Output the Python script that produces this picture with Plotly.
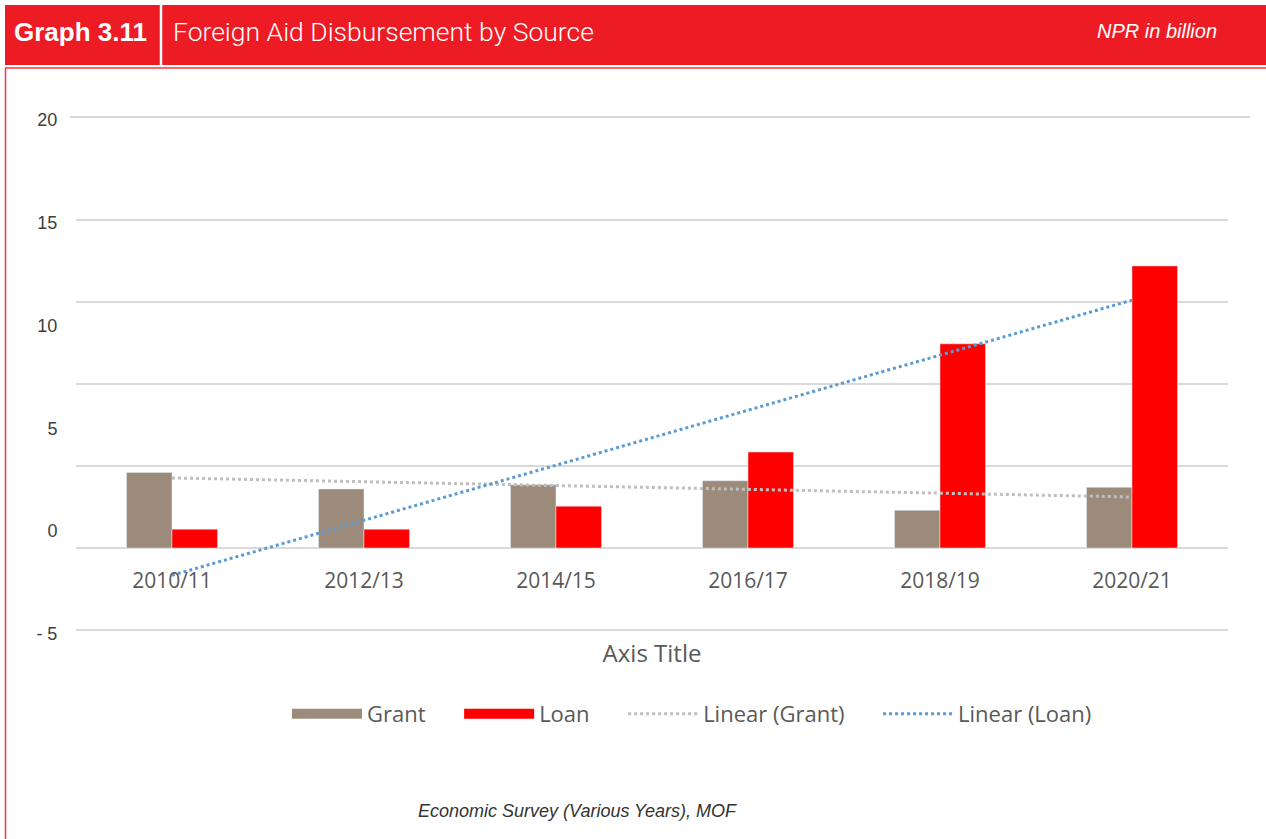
import numpy as np
import plotly.graph_objects as go

# data (NPR in billion)
years = ["2010/11", "2012/13", "2014/15", "2016/17", "2018/19", "2020/21"]
grant = [4.6, 3.6, 3.85, 4.1, 2.3, 3.7]
loan = [1.15, 1.15, 2.55, 5.85, 12.45, 17.2]
grid_vals = [-5, 0, 5, 10, 15, 20]
label_text = ["- 5", "0", "5", "10", "15", "20"]

GRANT_C = "#9C8B7B"
LOAN_C = "#FF0000"
RED = "#ED1C24"
CHART_FONT = "Open Sans"
PAD = "\u00a0" * 5

# page geometry
W, H = 1266, 839
PL, PR, PT, PB = 76, 1228, 100, 640  # plot area in page pixels


def px(x):
    return (x - PL) / (PR - PL)


def py(y):
    return (PB - y) / (PB - PT)


# linear trend lines (Excel style least squares)
xi = np.arange(len(years))
g_fit = np.polyval(np.polyfit(xi, grant, 1), xi)
l_fit = np.polyval(np.polyfit(xi, loan, 1), xi)

fig = go.Figure()

fig.add_trace(go.Bar(x=years, y=grant, name="Grant", marker_color=GRANT_C,
                     showlegend=False))
fig.add_trace(go.Bar(x=years, y=loan, name="Loan", marker_color=LOAN_C,
                     showlegend=False))
fig.add_trace(go.Scatter(x=years, y=g_fit, mode="lines", showlegend=False,
                         line=dict(color="#BFBFBF", width=3, dash="dot")))
fig.add_trace(go.Scatter(x=years, y=l_fit, mode="lines", showlegend=False,
                         line=dict(color="#5B9BD5", width=3, dash="dot")))

# legend entries (wide swatches like the original), kept on the label axis
for name, color, width, dash in [
    ("Grant" + PAD, GRANT_C, 12, "solid"),
    ("Loan" + PAD, LOAN_C, 12, "solid"),
    ("Linear (Grant)" + PAD, "#BFBFBF", 3, "dot"),
    ("Linear (Loan)", "#5B9BD5", 3, "dot"),
]:
    fig.add_trace(go.Scatter(x=[None], y=[None], yaxis="y2", mode="lines",
                             name=name,
                             line=dict(color=color, width=width, dash=dash)))

fig.update_layout(
    width=W,
    height=H,
    paper_bgcolor="white",
    plot_bgcolor="white",
    margin=dict(l=PL, r=W - PR, t=PT, b=H - PB, autoexpand=False),
    barmode="group",
    bargap=0.526,
    bargroupgap=0,
    xaxis=dict(
        anchor="free",
        position=py(566),
        showgrid=False,
        showline=False,
        zeroline=False,
        tickfont=dict(family=CHART_FONT, size=21, color="#595959"),
        title=dict(text="Axis Title", standoff=52,
                   font=dict(family=CHART_FONT, size=24, color="#595959")),
    ),
    yaxis=dict(
        range=[(548 - PB) / 16.4, (548 - PT) / 16.4],
        tickvals=grid_vals,
        showticklabels=False,
        showgrid=True,
        gridcolor="#D9D9D9",
        gridwidth=1.5,
        zeroline=False,
    ),
    yaxis2=dict(
        overlaying="y",
        side="left",
        range=[(531 - PB) / 20.55, (531 - PT) / 20.55],
        tickvals=grid_vals,
        ticktext=label_text,
        showgrid=False,
        zeroline=False,
        ticks="outside",
        ticklen=14,
        tickcolor="rgba(0,0,0,0)",
        tickfont=dict(family="Liberation Sans", size=18, color="#404040"),
    ),
    legend=dict(
        orientation="h",
        x=px(692),
        y=py(714),
        xanchor="center",
        yanchor="middle",
        font=dict(family=CHART_FONT, size=22, color="#595959"),
        itemwidth=70,
    ),
)

shapes = [
    # header band
    dict(type="rect", xref="paper", yref="paper", x0=px(5), x1=px(1266),
         y0=py(65), y1=py(5), fillcolor=RED, line=dict(width=0)),
    dict(type="line", xref="paper", yref="paper", x0=px(161), x1=px(161),
         y0=py(65), y1=py(5), line=dict(color="white", width=2.5)),
    # frame
    dict(type="line", xref="paper", yref="paper", x0=px(5), x1=px(1266),
         y0=py(68), y1=py(68), line=dict(color="#EE3A45", width=1.5)),
    dict(type="line", xref="paper", yref="paper", x0=px(5.5), x1=px(5.5),
         y0=py(68), y1=py(839), line=dict(color="#EE3A45", width=1.5)),
    # top rule
    dict(type="line", xref="paper", yref="paper", x0=px(70), x1=px(1250),
         y0=py(117), y1=py(117), line=dict(color="#D9D9D9", width=2)),
]
fig.update_layout(shapes=shapes)

annotations = [
    dict(xref="paper", yref="paper", x=px(12), y=py(32), xanchor="left",
         yanchor="middle", showarrow=False, text="<b>Graph 3.11</b>",
         font=dict(family="Liberation Sans", size=26, color="white")),
    dict(xref="paper", yref="paper", x=px(171), y=py(32), xanchor="left",
         yanchor="middle", showarrow=False,
         text="Foreign Aid Disbursement by Source",
         font=dict(family="Roboto", size=26.5, color="white", weight=300)),
    dict(xref="paper", yref="paper", x=px(1219), y=py(31), xanchor="right",
         yanchor="middle", showarrow=False, text="<i>NPR in billion</i>",
         font=dict(family="Liberation Sans", size=20, color="white")),
    dict(xref="paper", yref="paper", x=px(577), y=py(811), xanchor="center",
         yanchor="middle", showarrow=False,
         text="<i>Economic Survey (Various Years), MOF</i>",
         font=dict(family="Liberation Sans", size=18, color="#333333")),
]
fig.update_layout(annotations=annotations)

# drop the default 8px body margin so the figure fills the window
fig.write_html("out.html", config={"displayModeBar": False},
               post_script="document.body.style.margin='0px';")
